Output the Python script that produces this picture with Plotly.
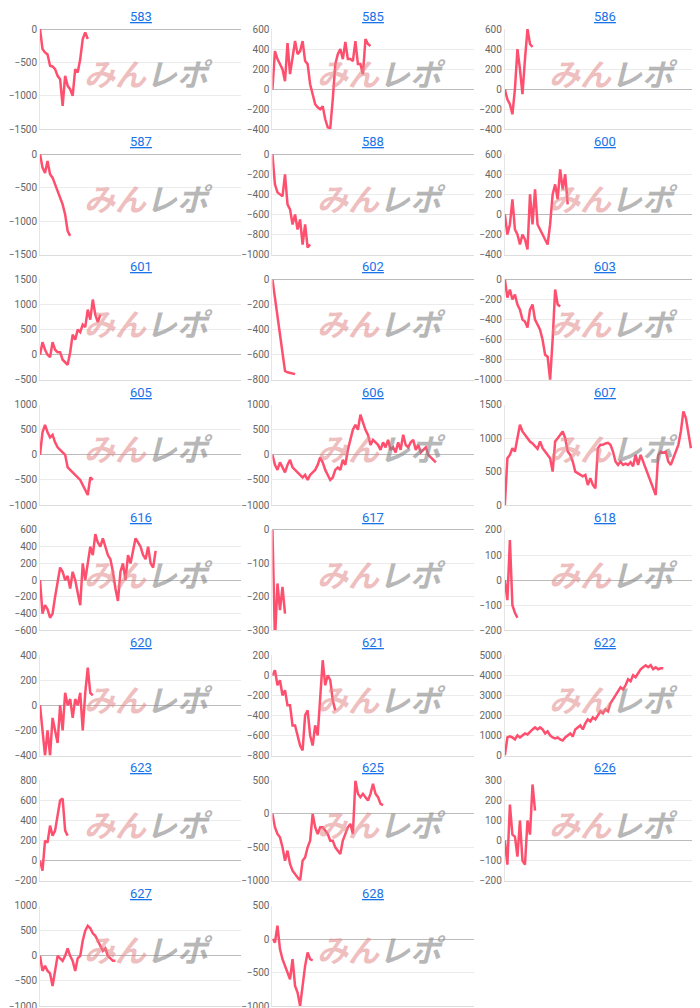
import plotly.graph_objects as go
from plotly.subplots import make_subplots

# chart names in grid order
names = ["583", "585", "586", "587", "588", "600", "601", "602", "603",
         "605", "606", "607", "616", "617", "618", "620", "621", "622",
         "623", "625", "626", "627", "628"]

s583 = [0, -300, -350, -380, -550, -560, -600, -700, -750, -1150, -700, -850, -900, -1000, -600, -650, -450, -150, -50, -150]
s585 = [0, 380, 300, 250, 200, 80, 460, 150, 300, 480, 350, 380, 480, 280, 250, 50, -50, -150, -180, -200,
        -170, -300, -380, -390, -100, 250, 350, 400, 300, 470, 300, 300, 280, 480, 250, 250, 150, 500, 450, 430]
s586 = [0, -100, -150, -250, 0, 400, 200, -50, 300, 600, 450, 420]
s587 = [0, -200, -280, -100, -300, -350, -450, -550, -650, -750, -900, -1150, -1220]
s588 = [0, -300, -380, -400, -420, -200, -500, -550, -700, -600, -750, -650, -900, -700, -930, -900]
s600 = [0, -200, -100, 150, -150, -200, -300, -200, -250, -350, 200, -100, 250, -100, -150, -200,
        -250, -300, -100, 200, 300, 150, 450, 250, 400, 100]
s601 = [0, 250, 100, 0, -50, 250, 100, 50, 50, -100, -150, -200, 50, 400, 300, 500, 450, 600, 550,
        900, 700, 1100, 800, 650, 800]
s602 = [0, -150, -300, -450, -600, -730, -740, -745, -750, -755]
s603 = [0, -180, -100, -200, -150, -250, -300, -400, -420, -480, -300, -250, -400, -450, -500, -600,
        -750, -770, -1000, -600, -100, -250, -270]
s605 = [0, 450, 600, 450, 350, 400, 250, 150, 100, 50, 0, -250, -300, -350, -400, -450, -500, -600,
        -700, -800, -450, -500]
s606 = [0, -200, -300, -150, -250, -350, -200, -100, -250, -300, -350, -400, -450, -400, -500, -400,
        -350, -300, -200, -50, -150, -300, -400, -500, -450, -300, -250, -300, -100, -200, 100, 300, 500,
        600, 500, 800, 650, 500, 400, 200, 300, 250, 200, 100, 250, 150, 300, 100, 150, 50, 250, 100, 400,
        200, 150, 250, 300, 100, 200, 50, 100, 150, 0, -50, -100, -150]
s607 = [0, 700, 750, 850, 800, 1000, 1200, 1100, 1050, 1000, 950, 920, 880, 840, 950, 850, 800, 750, 700,
        500, 950, 1000, 1050, 1100, 1000, 800, 750, 650, 500, 480, 450, 430, 450, 300, 400, 300, 250, 850,
        900, 900, 920, 930, 900, 800, 650, 600, 650, 600, 620, 600, 640, 580, 750, 600, 750, 650, 550, 450,
        350, 250, 150, 750, 800, 780, 800, 650, 600, 700, 800, 900, 1100, 1400, 1300, 1100, 850]
s616 = [0, -400, -300, -350, -450, -400, -200, 0, 150, 100, 0, 50, -100, 100, 0, -150, -300, 200, 0, 200,
        400, 300, 550, 450, 400, 500, 400, 300, 250, 100, -100, -250, 100, 200, 0, 300, 200, 350, 500,
        450, 400, 300, 250, 400, 200, 150, 350]
s617 = [0, -330, -160, -240, -170, -250]
s618 = [0, -80, 160, -100, -130, -150]
s620 = [0, -200, -400, -200, -400, -100, -200, -300, 0, -200, 100, 0, 50, -100, 50, 0, 100, -200, 100,
        300, 100, 80]
s621 = [0, 50, -100, -50, -200, -150, -300, -300, -500, -500, -600, -700, -750, -400, -350, -600, -700,
        -500, -600, -200, 150, -100, 0, -50, -250, -350]
s622 = [0, 900, 950, 900, 800, 1000, 900, 1000, 1100, 1050, 1200, 1300, 1400, 1300, 1400, 1300, 1100,
        1200, 1000, 900, 850, 900, 800, 750, 900, 1000, 1100, 950, 1300, 1400, 1500, 1300, 1600, 1800,
        1700, 1900, 1800, 2000, 2200, 2100, 2300, 2200, 2600, 2800, 3000, 3200, 3400, 3300, 3500, 3800,
        3700, 4000, 3900, 4100, 4300, 4400, 4500, 4400, 4500, 4300, 4400, 4300, 4350, 4350]
s623 = [0, -100, 200, 180, 350, 250, 300, 450, 600, 620, 300, 250]
s625 = [0, -200, -300, -350, -500, -700, -550, -750, -850, -900, -950, -1000, -700, -650, -500, -400, 0,
        -200, -300, -200, -200, -250, -300, -400, -400, -500, -550, -600, -400, -300, -200, -150, -300,
        500, 300, 250, 300, 250, 200, 300, 450, 300, 250, 150, 130]
s626 = [0, -120, 180, 30, 20, -80, 100, -100, -120, 100, 30, 280, 150]
s627 = [0, -300, -200, -300, -350, -600, -300, 0, -50, -100, 0, 150, 0, -100, -300, -50, 0, 300, 500, 600,
        550, 450, 400, 300, 200, 100, 150, 0, -50, -100, -100]
s628 = [0, -50, 200, -150, -300, -400, -500, -600, -300, -700, -800, -1000, -700, -400, -200, -300, -320]

series = [s583, s585, s586, s587, s588, s600, s601, s602, s603, s605, s606, s607,
          s616, s617, s618, s620, s621, s622, s623, s625, s626, s627, s628]

# y range and tick step per chart
yranges = [(-1500, 0, 500), (-400, 600, 200), (-400, 600, 200), (-1500, 0, 500), (-1000, 0, 200),
           (-400, 600, 200), (-500, 1500, 500), (-800, 0, 200), (-1000, 0, 200), (-1000, 1000, 500),
           (-1000, 1000, 500), (0, 1500, 500), (-600, 600, 200), (-300, 0, 100), (-200, 200, 100),
           (-400, 400, 200), (-800, 200, 200), (0, 5000, 1000), (-200, 800, 200), (-1000, 500, 500),
           (-200, 300, 100), (-1000, 1000, 500), (-1000, 500, 500)]

titles = [f"<u>{n}</u>" for n in names] + [""]
fig = make_subplots(rows=8, cols=3, subplot_titles=titles,
                    horizontal_spacing=0.047, vertical_spacing=0.0255)

for a in fig.layout.annotations:
    a.font = dict(size=13, color="#1a73e8", family="Roboto")
    a.yshift = 3

mark = ("<b><i><span style='color:rgba(225,135,135,0.55)'>みん</span>"
        "<span style='color:rgba(135,135,135,0.6)'>レポ</span></i></b>")

for i, ys in enumerate(series):
    r, c = i // 3 + 1, i % 3 + 1
    fig.add_trace(go.Scatter(x=list(range(len(ys))), y=ys, mode="lines",
                             line=dict(color="#ff4f6e", width=2.5), showlegend=False),
                  row=r, col=c)
    lo, hi, step = yranges[i]
    fig.update_xaxes(range=[0, 80], showticklabels=False, showgrid=False, zeroline=False,
                     showline=True, linecolor="#dddddd", row=r, col=c)
    fig.update_yaxes(range=[lo, hi], dtick=step, showgrid=True, gridcolor="#ebebeb",
                     zeroline=True, zerolinecolor="#bbbbbb", zerolinewidth=1,
                     showline=True, linecolor="#e6e6e6", ticks="",
                     tickfont=dict(size=10, color="#666666"), row=r, col=c)
    n = "" if i == 0 else str(i + 1)
    # watermark
    fig.add_annotation(xref=f"x{n} domain", yref=f"y{n} domain", x=0.54, y=0.57,
                       text=mark, showarrow=False,
                       font=dict(size=31, family="Noto Sans CJK JP"))

fig.update_xaxes(visible=False, row=8, col=3)
fig.update_yaxes(visible=False, row=8, col=3)

fig.update_layout(width=700, height=1008, margin=dict(l=32, r=2, t=21, b=10),
                  paper_bgcolor="white", plot_bgcolor="white",
                  font=dict(family="Roboto", color="#666666"))
fig.write_html("out.html")
